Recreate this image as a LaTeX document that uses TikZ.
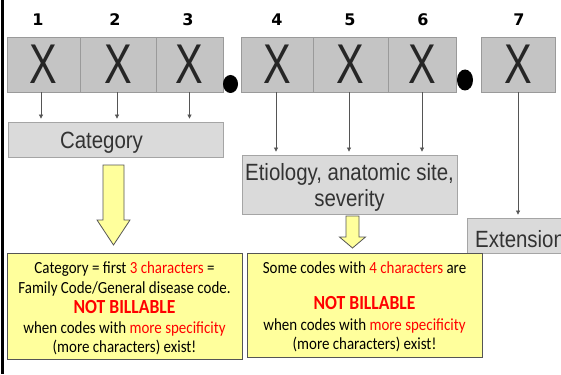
\documentclass[tikz,border=0pt]{standalone}
\usepackage{fontspec}
\setmainfont{Liberation Sans}
\newfontfamily\calfont{Carlito}
\newfontfamily\numfont{DejaVu Sans}
\usepackage{graphicx}
\usetikzlibrary{arrows.meta}
\definecolor{boxgray}{HTML}{C4C4C4}
\definecolor{boxline}{HTML}{9A9A9A}
\definecolor{lightgray}{HTML}{DADADA}
\definecolor{lightline}{HTML}{A5A5A5}
\definecolor{noteyellow}{HTML}{FFFF9C}
\definecolor{noteline}{HTML}{555555}
\definecolor{arrowgray}{HTML}{555555}
\definecolor{alertred}{HTML}{FF0000}
\newcommand\cx[1]{\scalebox{0.88}[1]{#1}}
\newcommand\ax[1]{\scalebox{0.87}[1]{#1}}
\newcommand\red[1]{\textcolor{alertred}{#1}}
\tikzset{
  digitbox/.style={draw=boxline, fill=boxgray, line width=0.8pt, inner sep=0pt, minimum height=55pt},
  xchar/.style={font=\fontsize{56}{56}\selectfont, text=black!85},
  numlabel/.style={font=\numfont\bfseries\fontsize{16}{16}\selectfont, inner sep=0pt},
  catbox/.style={draw=lightline, fill=lightgray, line width=0.8pt, inner sep=0pt},
  boxtext/.style={font=\fontsize{23.5}{26}\selectfont, text=black!80, inner sep=0pt, anchor=base},
  thinarrow/.style={draw=arrowgray, line width=0.7pt, -{Triangle[length=4pt,width=4pt]}, shorten >=3pt},
  notebox/.style={draw=noteline, fill=noteyellow, line width=0.8pt, inner sep=0pt},
  notetext/.style={font=\calfont\fontsize{17}{20}\selectfont, inner sep=0pt, anchor=base},
  notebig/.style={font=\calfont\bfseries\fontsize{20}{20}\selectfont, text=alertred, inner sep=0pt, anchor=base},
  blockarrow/.style={draw=noteline, fill=noteyellow, line width=0.8pt, line join=miter},
  dot/.style={fill=black}
}
\begin{document}
\begin{tikzpicture}[x=1pt,y=-1pt]
\useasboundingbox (0,0) rectangle (561,374);
\clip (0,0) rectangle (561,374);
\fill[white] (0,0) rectangle (561,374);
% left rule
\draw[line width=2.5pt] (2.5,0) -- (2.5,374);
% digit boxes
\node[digitbox, minimum width=73pt] (b1) at (43.5,64.5) {};
\node[digitbox, minimum width=76pt] (b2) at (118,64.5) {};
\node[digitbox, minimum width=67pt] (b3) at (189.5,64.5) {};
\node[digitbox, minimum width=72pt] (b4) at (277,64.5) {};
\node[digitbox, minimum width=75pt] (b5) at (350.5,64.5) {};
\node[digitbox, minimum width=68pt] (b6) at (422,64.5) {};
\node[digitbox, minimum width=74pt] (b7) at (518,64.5) {};
\foreach \b in {b1,b2,b3,b4,b5,b6,b7}{
  \node[xchar, inner sep=0pt] at (\b.center) {\scalebox{0.74}[1]{X}};
}
% numbers
\node[numlabel] (n1) at (38,20) {1};
\node[numlabel] (n2) at (115,20) {2};
\node[numlabel] (n3) at (188,20) {3};
\node[numlabel] (n4) at (277,20) {4};
\node[numlabel] (n5) at (350,20) {5};
\node[numlabel] (n6) at (423,20) {6};
\node[numlabel] (n7) at (519,20) {7};
% dots
\fill[dot] (230.5,84) ellipse [x radius=7.5, y radius=9];
\fill[dot] (465,80) ellipse [x radius=8, y radius=10.5];
% gray result boxes
\node[catbox, minimum width=215pt, minimum height=35pt] (cat) at (115.5,139.5) {};
\node[boxtext] at (101.5,148) {\ax{Category}};
\node[catbox, minimum width=215pt, minimum height=59pt] (eti) at (349.5,184.5) {};
\node[boxtext] at (349.5,180) {\ax{Etiology, anatomic site,}};
\node[boxtext] at (349.5,206) {\ax{severity}};
\node[catbox, minimum width=140pt, minimum height=35pt] (ext) at (537,235.5) {};
\node[boxtext, anchor=base west] at (475,247) {\ax{Extension}};
% thin arrows
\draw[thinarrow] ([xshift=-2.5pt]b1.south) -- ([xshift=-2.5pt]b1.south |- cat.north);
\draw[thinarrow] ([xshift=-1pt]b2.south) -- ([xshift=-1pt]b2.south |- cat.north);
\draw[thinarrow] (b3.south) -- (b3.south |- cat.north);
\draw[thinarrow] ([xshift=-1pt]b4.south) -- ([xshift=-1pt]b4.south |- eti.north);
\draw[thinarrow] ([xshift=-1.5pt]b5.south) -- ([xshift=-1.5pt]b5.south |- eti.north);
\draw[thinarrow] (b6.south) -- (b6.south |- eti.north);
\draw[thinarrow] (b7.south) -- (b7.south |- ext.north);
% yellow note boxes
\node[notebox, minimum width=235pt, minimum height=106pt] (note1) at (124.5,306) {};
\node[notebox, minimum width=235pt, minimum height=104pt] (note2) at (364.5,305) {};
\node[notetext] at (124.5,273) {\cx{Category = first \red{3 characters} =}};
\node[notetext] at (124.5,293) {\cx{Family Code/General disease code.}};
\node[notebig] at (124.5,313) {\cx{NOT BILLABLE}};
\node[notetext] at (124.5,333) {\cx{when codes with \red{more specificity}}};
\node[notetext] at (124.5,352) {\cx{(more characters) exist!}};
\node[notetext] at (364.5,273) {\cx{Some codes with \red{4 characters} are}};
\node[notebig] at (364.5,309) {\cx{NOT BILLABLE}};
\node[notetext] at (364.5,330) {\cx{when codes with \red{more specificity}}};
\node[notetext] at (364.5,349) {\cx{(more characters) exist!}};
% yellow block arrows
\draw[blockarrow] (103,165) -- (124,165) -- (124,220) -- (130,220) -- (113.5,245) -- (97,220) -- (103,220) -- cycle;
\draw[blockarrow] (346,216) -- (359,216) -- (359,237) -- (365.5,237) -- (352.5,248) -- (339.5,237) -- (346,237) -- cycle;
\end{tikzpicture}
\end{document}
